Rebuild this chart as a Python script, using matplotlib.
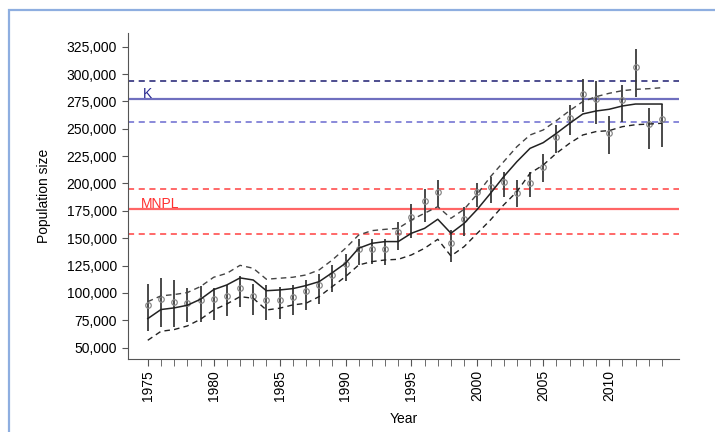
import matplotlib
matplotlib.use("Agg")
import matplotlib.pyplot as plt
from matplotlib.patches import Rectangle
from matplotlib.ticker import FuncFormatter

plt.rcParams['font.family'] = ['Liberation Sans', 'DejaVu Sans']

years = list(range(1975, 2015))

# model fit (solid) and its confidence band (dashed)
fit = [76500, 84800, 86300, 88700, 94200, 103000, 107300, 113700, 111800, 102000,
       102700, 103900, 106700, 110300, 118500, 127100, 140800, 145300, 146900, 146900,
       154500, 159000, 167300, 154500, 163600, 176400, 191000, 206200, 219900, 232100,
       237300, 245800, 254900, 263500, 266200, 267800, 270800, 272600, 272600, 272600]
fit_hi = [92000, 97300, 98500, 100300, 105800, 114300, 117900, 125200, 122500, 112500,
          113400, 114300, 116400, 121000, 130100, 140800, 152900, 156900, 158100, 159000,
          166700, 172800, 178800, 168200, 176400, 190400, 206200, 219900, 233600, 244300,
          248900, 257400, 266500, 274800, 279300, 282400, 284800, 286000, 286600, 287500]
fit_lo = [56700, 64900, 66500, 69800, 75900, 84400, 89900, 96600, 95100, 84400,
          86000, 89000, 90500, 96600, 105800, 114900, 125500, 128600, 130100, 130700,
          134700, 140800, 149000, 133700, 142300, 154500, 166700, 180400, 192500, 209300,
          216900, 227600, 236700, 244300, 247400, 248300, 251900, 253700, 254300, 255000]

# survey estimates with intervals
obs = [89300, 94200, 91800, 91200, 93900, 94500, 97300, 104900, 97300, 93300,
       93300, 96300, 101800, 107000, 116200, 126800, 140500, 140500, 139900, 156000,
       169400, 184000, 191900, 146000, 167600, 192500, 196500, 201700, 191600, 200800,
       215400, 242800, 259500, 281800, 277200, 246400, 276300, 306700, 254400, 258600]
obs_hi = [108500, 114000, 112200, 104900, 106100, 104900, 107000, 115200, 107900, 107600,
          105500, 107000, 111600, 117100, 125300, 136000, 148800, 149700, 149700, 165100,
          181000, 194700, 203200, 157500, 178200, 200800, 206200, 210800, 203200, 210800,
          226900, 253400, 271700, 295200, 293700, 262000, 289700, 322600, 268700, 272600]
obs_lo = [65200, 68900, 68900, 73500, 73500, 75600, 78700, 87200, 79600, 75600,
          76500, 79600, 84100, 90200, 100900, 111000, 125300, 126800, 125300, 139300,
          149900, 165100, 178200, 128600, 152000, 178200, 181900, 188000, 178800, 188000,
          201700, 228200, 244300, 265600, 254400, 227000, 256500, 278700, 231200, 233600]

K = 277000
K_hi = 293400
K_lo = 255900
MNPL = 176400
MNPL_hi = 195300
MNPL_lo = 153500

fig = plt.figure(figsize=(7.15, 4.32), dpi=100)
fig.patches.append(Rectangle((9 / 715, -0.1), 1.2, 1 - 10 / 432 + 0.1,
                             transform=fig.transFigure, fill=False,
                             edgecolor='#8eaee0', linewidth=1.6))
ax = fig.add_axes([128 / 715, 1 - 359 / 432, 551 / 715, 326 / 432])

# reference lines
ax.axhline(K, color='#5656b4', lw=1.6, alpha=0.85)
ax.axhline(K_hi, color='#1c1c70', lw=1.1, ls=(0, (4, 3)))
ax.axhline(K_lo, color='#6a6ad0', lw=1.1, ls=(0, (4, 3)))
ax.axhline(MNPL, color='#ff4a4a', lw=1.6, alpha=0.85)
ax.axhline(MNPL_hi, color='#ff4040', lw=1.1, ls=(0, (4, 3)))
ax.axhline(MNPL_lo, color='#ff4040', lw=1.1, ls=(0, (4, 3)))
ax.text(1974.65, K + 1200, 'K', color='#2a2a90', fontsize=10)
ax.text(1974.5, MNPL + 800, 'MNPL', color='#ff3030', fontsize=10)

# error bars and points
ax.vlines(years, obs_lo, obs_hi, color='#3a3a3a', lw=1.3, zorder=3)
ax.plot(years, obs, 'o', mfc='none', mec='#888888', ms=4, mew=0.9, zorder=4)

# fit and band
ax.plot(years, fit, color='#222222', lw=1.1, zorder=5)
ax.plot(years, fit_hi, color='#444444', lw=1.0, ls=(0, (4, 3)), zorder=5)
ax.plot(years, fit_lo, color='#222222', lw=1.0, ls=(0, (4, 3)), zorder=5)

ax.set_xlim(1973.5, 2015.3)
ax.set_ylim(39600, 337500)
ax.set_yticks(range(50000, 325001, 25000))
ax.set_xticks(range(1975, 2011, 5))
ax.set_xticks(years, minor=True)
ax.yaxis.set_major_formatter(FuncFormatter(lambda v, p: f'{int(v):,}'))
ax.tick_params(axis='x', which='both', length=5, color='#555555', labelrotation=90,
               labelsize=10, pad=3)
ax.tick_params(axis='y', length=4, color='#555555', labelsize=10, pad=4)
for s in ['top', 'right']:
    ax.spines[s].set_visible(False)
for s in ['left', 'bottom']:
    ax.spines[s].set_color('#555555')

ax.set_xlabel('Year', fontsize=10, labelpad=8)
ax.set_ylabel('Population size', fontsize=10, labelpad=11)

fig.savefig('out.png', dpi=100)
